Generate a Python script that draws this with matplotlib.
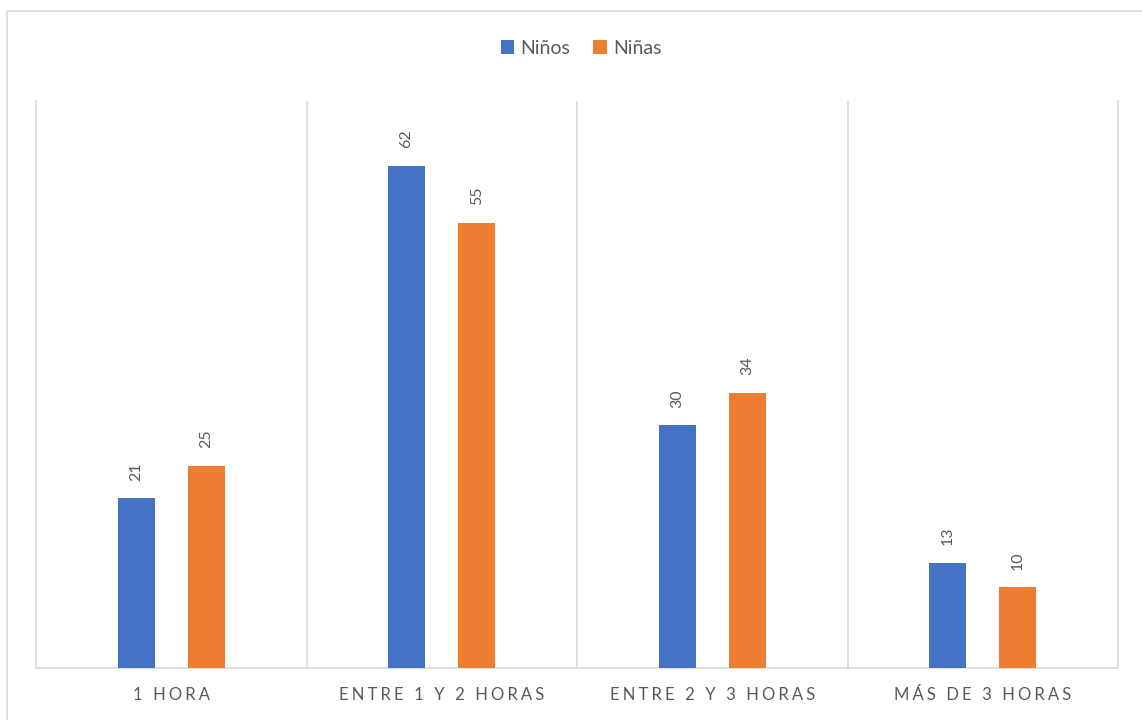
import matplotlib
matplotlib.use("Agg")
import matplotlib.pyplot as plt
import numpy as np
from matplotlib.patches import Rectangle

categories = ["1 HORA", "ENTRE 1 Y 2 HORAS", "ENTRE 2 Y 3 HORAS", "MÁS DE 3 HORAS"]
series_names = ["Niños", "Niñas"]
ninos = [21, 62, 30, 13]
ninas = [25, 55, 34, 10]

BLUE = "#4472C4"
ORANGE = "#ED7D31"
GRID = "#D9D9D9"
TEXT = "#595959"

plt.rcParams['font.family'] = ['Lato', 'DejaVu Sans']

fig = plt.figure(figsize=(11.42, 7.2), dpi=100)
W, H = 1142, 720
ax = fig.add_axes([36 / W, 1 - 668 / H, (1118 - 36) / W, (668 - 101) / H])

x = np.arange(len(categories))
bw = 0.137
off = 0.13
b1 = ax.bar(x - off, ninos, bw, color=BLUE, label=series_names[0], zorder=3)
b2 = ax.bar(x + off, ninas, bw, color=ORANGE, label=series_names[1], zorder=3)

for bars, vals in ((b1, ninos), (b2, ninas)):
    for rect, v in zip(bars, vals):
        ax.annotate(str(v), (rect.get_x() + rect.get_width() / 2, rect.get_height()),
                    xytext=(0, 12.5), textcoords="offset points", rotation=90,
                    ha="center", va="bottom", fontsize=11.5, color=TEXT)

ax.set_xlim(-0.5, len(categories) - 0.5)
ax.set_ylim(0, 70)
ax.set_yticks([])
for b in np.arange(0.5, len(categories) - 0.5, 1):
    ax.axvline(b, color=GRID, lw=1.2, zorder=1)
for s in ["left", "right", "bottom"]:
    ax.spines[s].set_color(GRID)
    ax.spines[s].set_linewidth(1.2)
ax.spines["top"].set_visible(False)

spaced = ["\u2009\u200A".join(list(c)) for c in categories]
ax.set_xticks(x)
ax.set_xticklabels(spaced, fontsize=12, color=TEXT)
ax.tick_params(axis="x", length=0, pad=14)

leg = fig.legend(handles=[b1, b2], labels=series_names, loc="center",
                 bbox_to_anchor=(581 / W, 1 - 48 / H), ncol=2, frameon=False,
                 fontsize=14, handlelength=0.7, handleheight=0.7,
                 handletextpad=0.3, columnspacing=1.2)
for t in leg.get_texts():
    t.set_color(TEXT)

fig.patches.append(Rectangle((7 / W, -0.1), 1.2, 1 - 11 / H + 0.1,
                             transform=fig.transFigure, fill=False,
                             edgecolor=GRID, lw=1.2))

fig.savefig("out.png", dpi=100)
